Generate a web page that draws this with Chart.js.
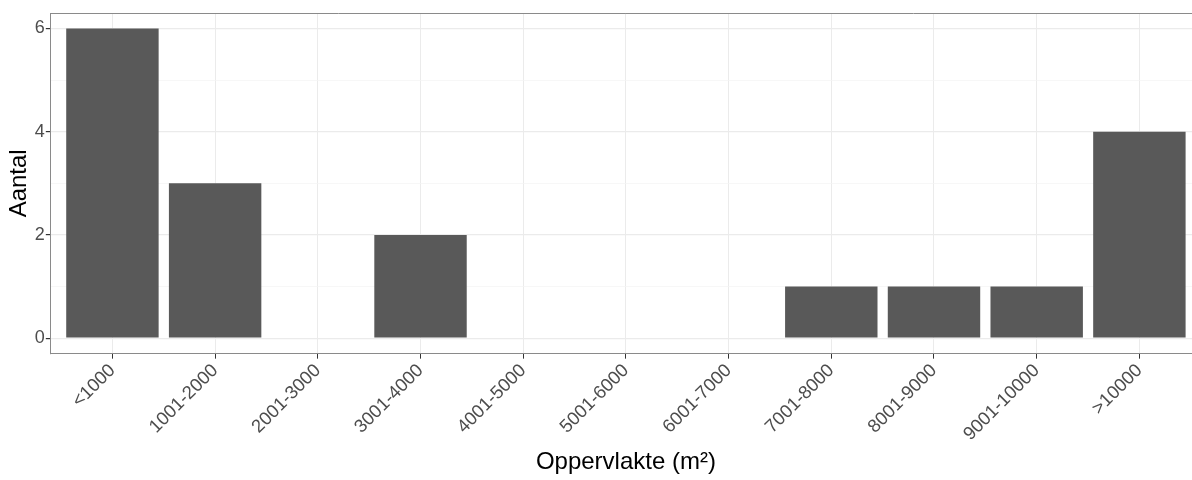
<!DOCTYPE html>
<html>
<head>
<meta charset="utf-8">
<script src="https://cdn.jsdelivr.net/npm/chart.js@4/dist/chart.umd.min.js"></script>
<style>
  html, body { margin: 0; padding: 0; background: #fff; overflow: hidden; }
  #wrap { width: 1192px; height: 480px; overflow: hidden; }
  #box { width: 1201px; height: 480px; position: relative; }
</style>
</head>
<body>
<div id="wrap"><div id="box"><canvas id="areaChart"></canvas></div></div>
<script>
// categories and counts
const categories = ["<1000", "1001-2000", "2001-3000", "3001-4000", "4001-5000", "5001-6000",
  "6001-7000", "7001-8000", "8001-9000", "9001-10000", ">10000"];
const counts = [6, 3, 0, 2, 0, 0, 0, 1, 1, 1, 4];
const yTicks = [0, 1, 2, 3, 4, 5, 6];

const fontFamily = "'Liberation Sans', Arial, sans-serif";

// top line of the panel border
const panelTop = {
  id: "panelTop",
  afterDraw(chart) {
    const { ctx, chartArea } = chart;
    ctx.save();
    ctx.strokeStyle = "#8a8a8a";
    ctx.lineWidth = 1;
    ctx.beginPath();
    ctx.moveTo(chartArea.left, chartArea.top + 0.5);
    ctx.lineTo(chartArea.right, chartArea.top + 0.5);
    ctx.stroke();
    ctx.restore();
  },
};

document.addEventListener("DOMContentLoaded", function () {
  const ctx = document.getElementById("areaChart").getContext("2d");

  new Chart(ctx, {
    type: "bar",
    data: {
      datasets: [
        {
          label: "Aantal",
          data: counts.map((v, i) => ({ x: i, y: v })),
          backgroundColor: "#595959",
          borderWidth: 0,
          barPercentage: 0.9,
          categoryPercentage: 1,
        },
      ],
    },
    options: {
      responsive: true,
      maintainAspectRatio: false,
      animation: false,
      layout: { padding: { top: 13, left: 5, right: 0, bottom: 3 } },
      plugins: {
        legend: { display: false },
        tooltip: { enabled: false },
      },
      scales: {
        x: {
          type: "linear",
          min: -0.6,
          max: 10.6,
          offset: false,
          afterBuildTicks: (scale) => {
            scale.ticks = categories.map((c, i) => ({ value: i }));
          },
          grid: {
            offset: false,
            color: "#ebebeb",
            tickColor: "#333333",
            tickLength: 5,
          },
          border: { color: "#8a8a8a" },
          ticks: {
            autoSkip: false,
            maxRotation: 45,
            minRotation: 45,
            padding: 1,
            color: "#4d4d4d",
            font: { family: fontFamily, size: 18.5 },
            callback: (value) => categories[value],
          },
          title: {
            display: true,
            text: "Oppervlakte (m²)",
            color: "#000",
            font: { family: fontFamily, size: 24 },
            padding: { top: 2, bottom: 0 },
          },
        },
        y: {
          min: -0.3,
          max: 6.3,
          afterBuildTicks: (scale) => {
            scale.ticks = yTicks.map((v) => ({ value: v }));
          },
          grid: {
            color: (c) => (c.tick && c.tick.value % 2 ? "#f4f4f4" : "#ebebeb"),
            lineWidth: (c) => (c.tick && c.tick.value % 2 ? 0.7 : 1.2),
            tickColor: (c) => (c.tick && c.tick.value % 2 ? "rgba(0,0,0,0)" : "#333333"),
            tickLength: 5,
          },
          border: { color: "#8a8a8a" },
          ticks: {
            padding: 1,
            color: "#4d4d4d",
            font: { family: fontFamily, size: 18 },
            callback: (value) => (value % 2 ? "" : value),
          },
          title: {
            display: true,
            text: "Aantal",
            color: "#000",
            font: { family: fontFamily, size: 24 },
            padding: { top: 0, bottom: 0 },
          },
        },
      },
    },
    plugins: [panelTop],
  });
});
</script>
</body>
</html>
